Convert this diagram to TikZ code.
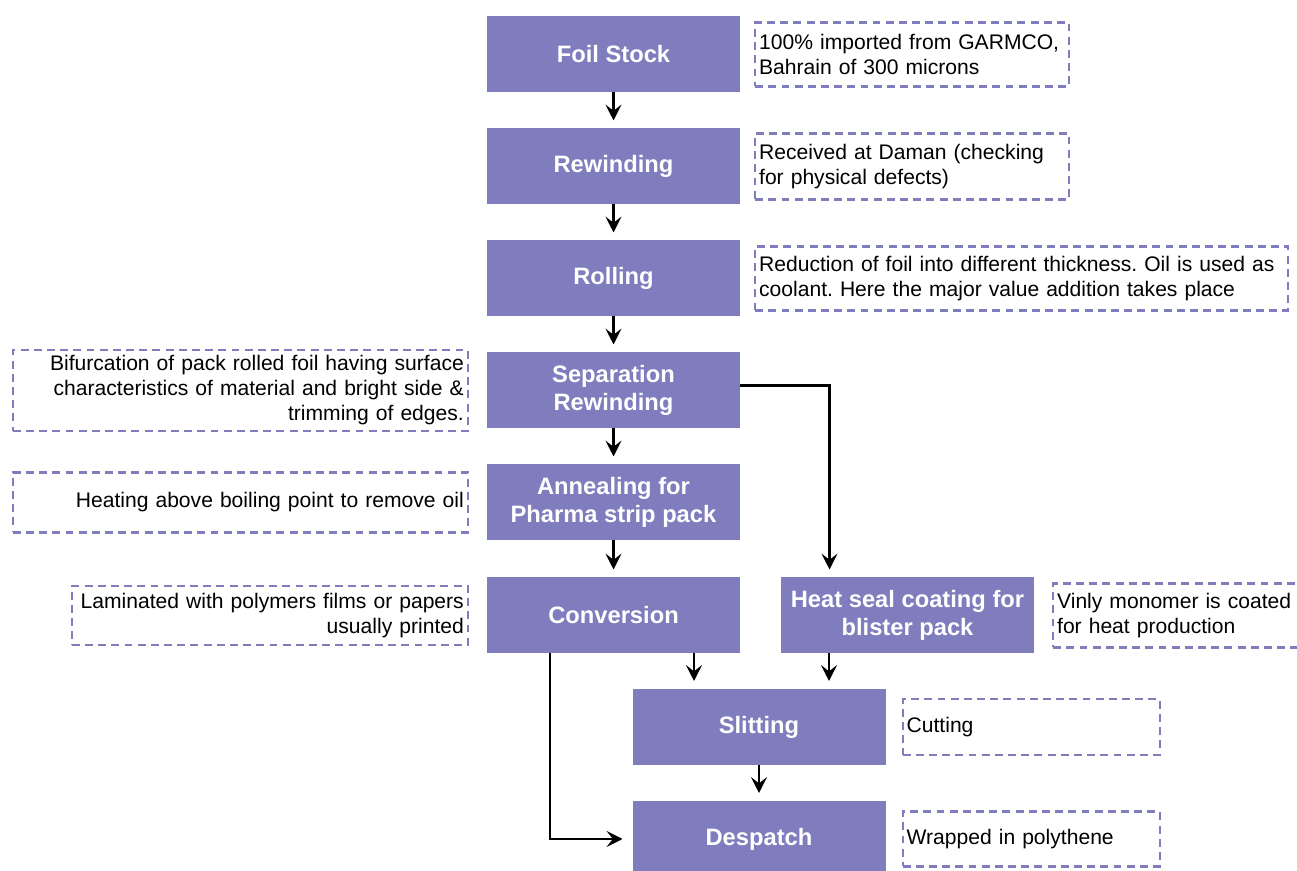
\documentclass[tikz,border=0pt]{standalone}
\usepackage{fontspec}
\setmainfont{Liberation Sans}
\usetikzlibrary{arrows.meta, positioning, calc}

\definecolor{stagecol}{RGB}{127,125,189}

\begin{document}
\frenchspacing
\begin{tikzpicture}[
		stage/.style={fill=stagecol, text=white, font=\fontsize{13.5}{15.9}\selectfont\bfseries,
			minimum width=5.06cm, minimum height=1.52cm, align=center, inner sep=0pt, outer sep=0pt},
		note/.style={draw=stagecol, dash pattern=on 4.5pt off 3pt, line width=1.3pt, fill=white,
			font=\fontsize{12}{14.2}\selectfont, inner xsep=0.08cm, inner ysep=0pt},
		flow/.style={line width=1.3pt, -{Stealth[length=9pt,width=9pt,inset=3.5pt]}, shorten >=0.16cm}]
		\useasboundingbox (0,0) rectangle (25.94,-17.42);

		% main line
		\node[stage] (foil) at (12.27,-1.09) {Foil Stock};
		\node[stage, below=0.72cm of foil] (rewind) {Rewinding};
		\node[stage, below=0.72cm of rewind] (roll) {Rolling};
		\node[stage, below=0.72cm of roll] (sep) {Separation\\Rewinding};
		\node[stage, below=0.72cm of sep] (anneal) {Annealing for\\Pharma strip pack};
		\node[stage, below=0.74cm of anneal] (conv) {Conversion};
		\node[stage, right=0.82cm of conv] (heat) {Heat seal coating for\\blister pack};
		\node[stage] (slit) at (15.18,-14.54) {Slitting};
		\node[stage, below=0.72cm of slit] (desp) {Despatch};

		% remarks
		\node[note, text width=6.12cm, minimum height=1.28cm, align=left, right=0.28cm of foil] (n1)
			{100\% imported from GARMCO,\\Bahrain of 300 microns};
		\node[note, text width=6.12cm, minimum height=1.32cm, align=left, right=0.28cm of rewind] (n2)
			{Received at Daman (checking\\for physical defects)};
		\node[note, text width=10.50cm, minimum height=1.28cm, align=left, right=0.28cm of roll] (n3)
			{Reduction of foil into different thickness. Oil is used as\\coolant. Here the major value addition takes place};
		\node[note, text width=8.94cm, minimum height=1.62cm, align=right, left=0.36cm of sep] (n4)
			{Bifurcation of pack rolled foil having surface\\characteristics of material and bright side \&\\trimming of edges.};
		\node[note, text width=8.94cm, minimum height=1.20cm, align=right, left=0.36cm of anneal] (n5)
			{Heating above boiling point to remove oil};
		\node[note, text width=7.76cm, minimum height=1.18cm, align=right, left=0.36cm of conv] (n6)
			{Laminated with polymers films or papers\\usually printed};
		\node[note, text width=4.78cm, minimum height=1.28cm, align=left, right=0.36cm of heat] (n7)
			{Vinly monomer is coated\\for heat production};
		\node[note, text width=4.98cm, minimum height=1.12cm, align=left, right=0.32cm of slit] (n8)
			{Cutting};
		\node[note, text width=4.98cm, minimum height=1.10cm, align=left, right=0.32cm of desp] (n9)
			{Wrapped in polythene};

		% arrows
		\draw[flow] (foil) -- (rewind);
		\draw[flow] (rewind) -- (roll);
		\draw[flow] (roll) -- (sep);
		\draw[flow] (sep) -- (anneal);
		\draw[flow] (anneal) -- (conv);
		\draw[flow] ([yshift=0.1cm]sep.east) -| ([xshift=-1.56cm]heat.north);
		\coordinate (c1) at ([xshift=-1.3cm]slit.north);
		\coordinate (c2) at ([xshift=1.4cm]slit.north);
		\draw[flow] (conv.south -| c1) -- (c1);
		\draw[flow] (heat.south -| c2) -- (c2);
		\draw[flow] (slit) -- (desp);
		\draw[flow, shorten >=0.2cm] ([xshift=-1.27cm]conv.south) |- (desp.west);
	\end{tikzpicture}
\end{document}
